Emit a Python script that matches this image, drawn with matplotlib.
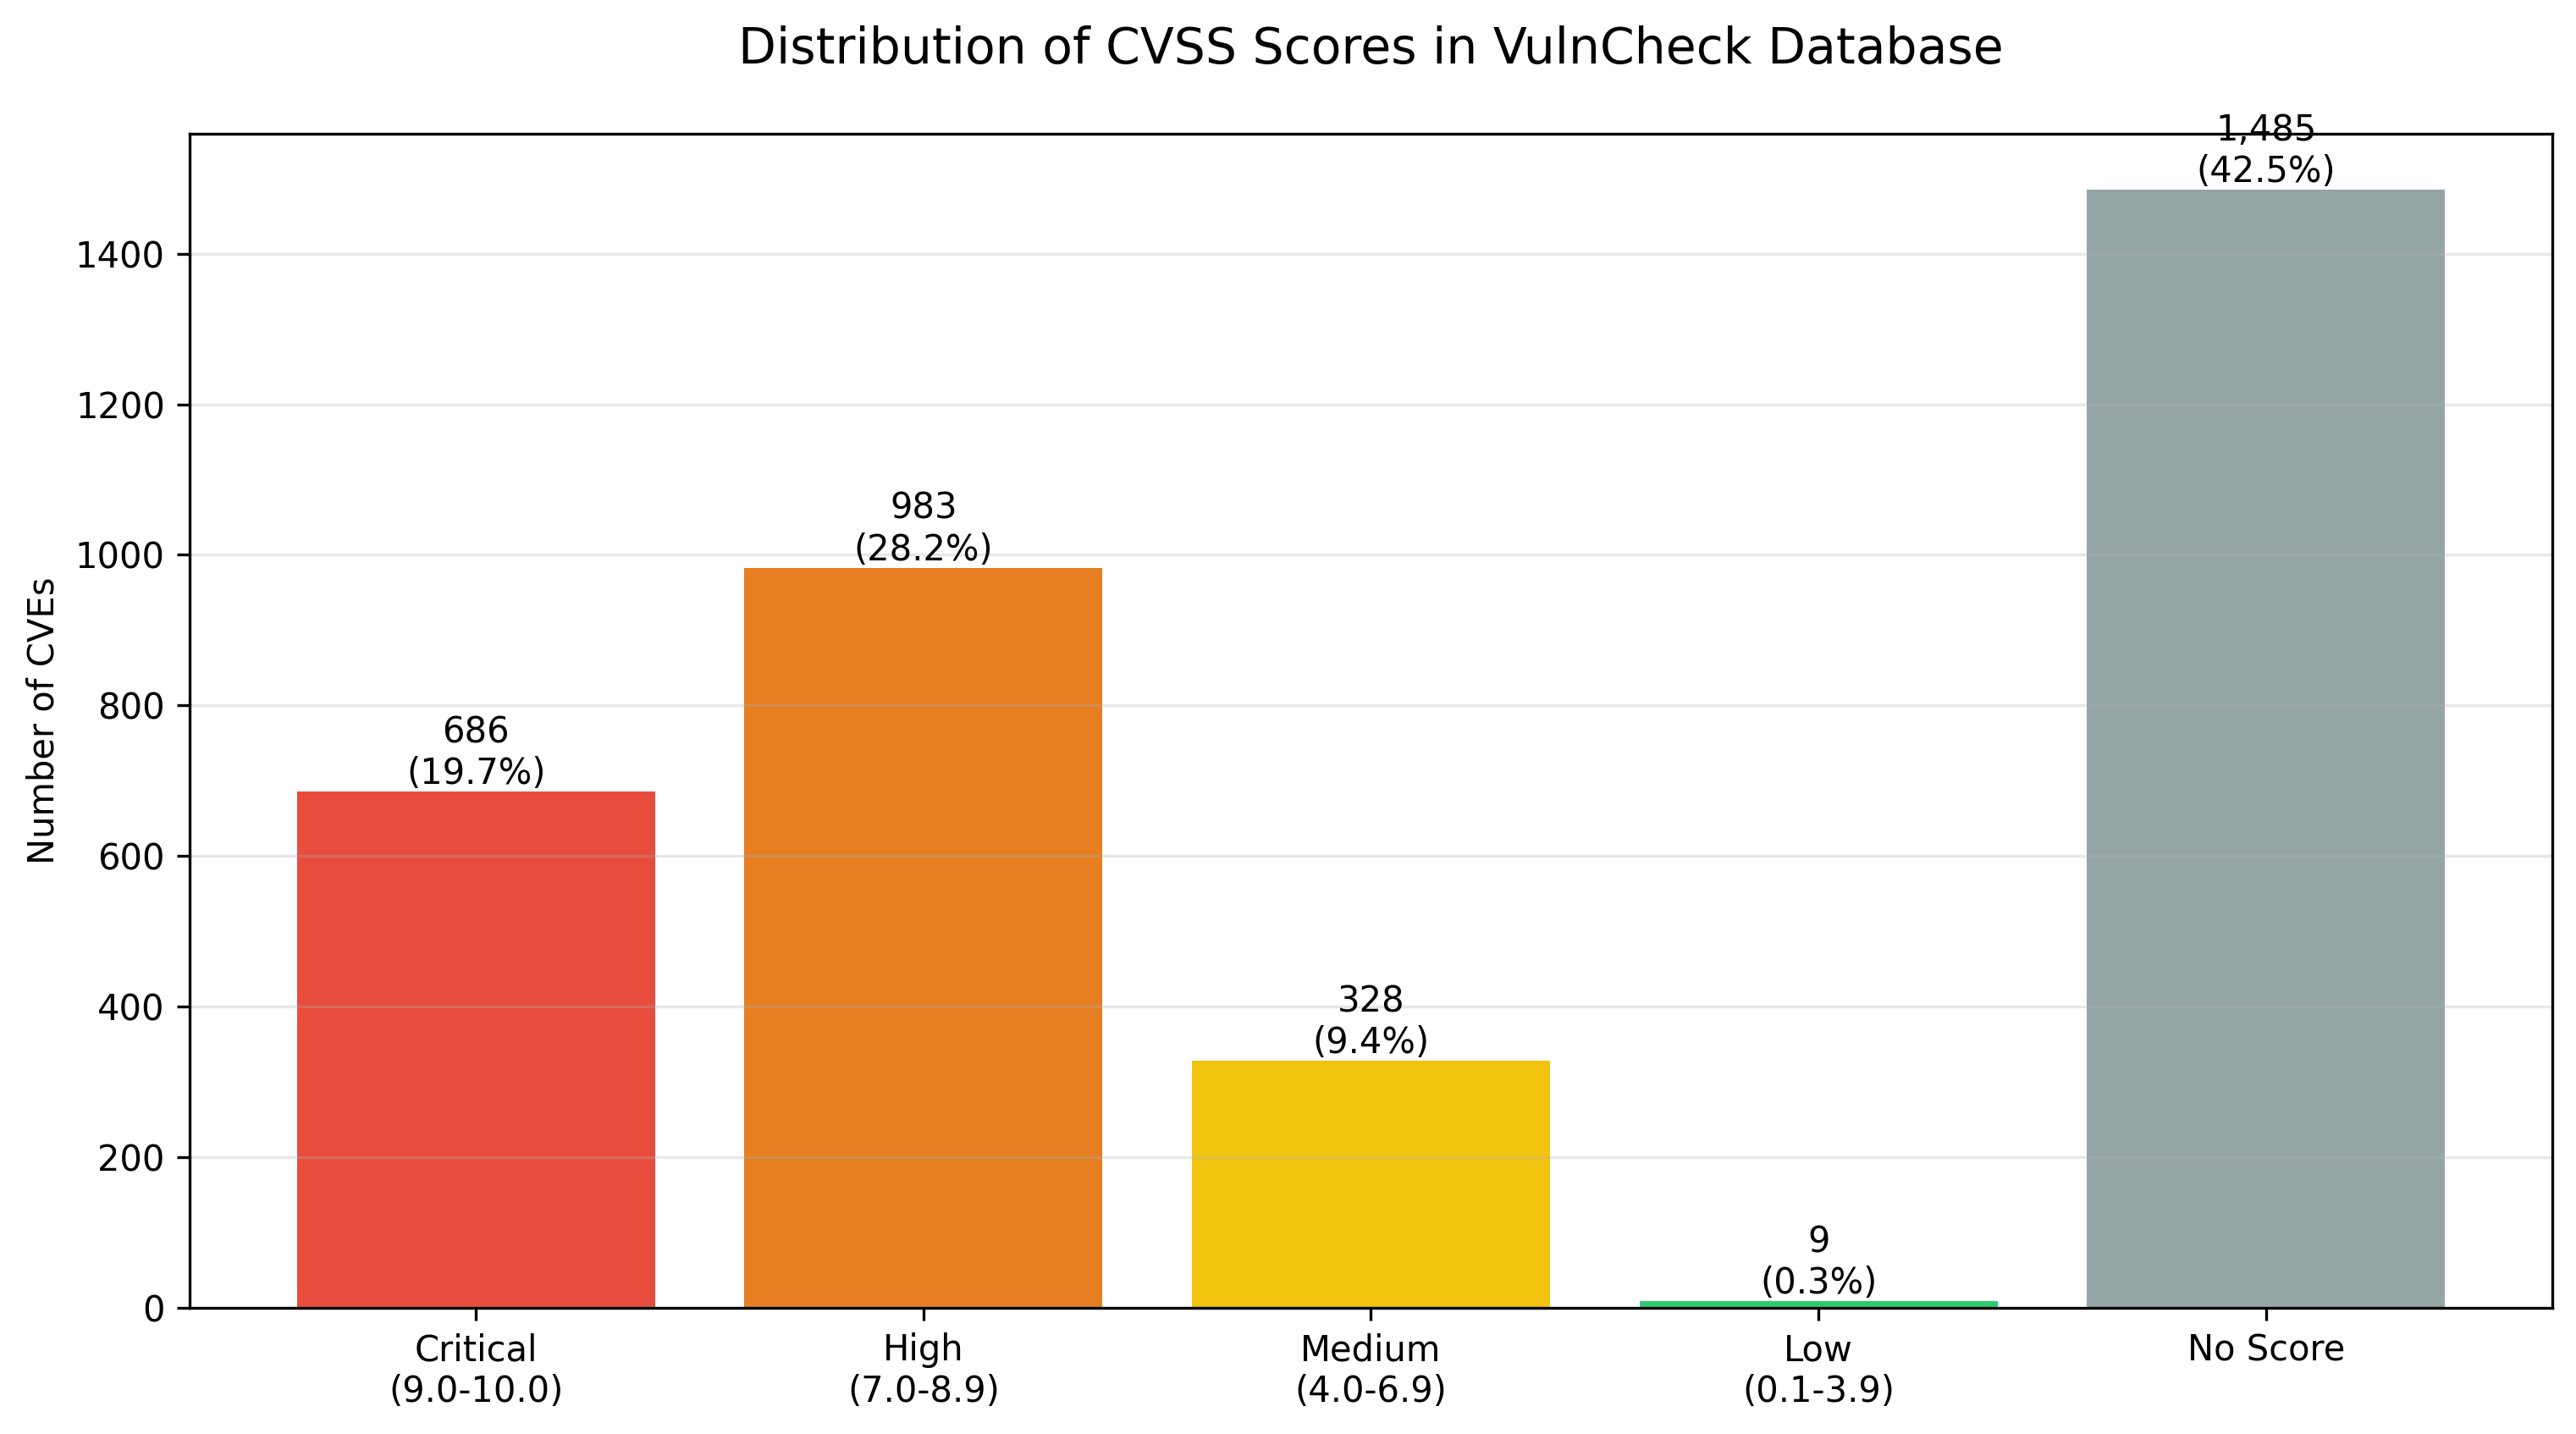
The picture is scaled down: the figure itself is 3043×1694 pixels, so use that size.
import matplotlib
matplotlib.use("Agg")
import matplotlib.pyplot as plt

categories = ["Critical\n(9.0-10.0)", "High\n(7.0-8.9)", "Medium\n(4.0-6.9)", "Low\n(0.1-3.9)", "No Score"]
counts = [686, 983, 328, 9, 1485]
colors = ["#e74c3c", "#e67e22", "#f1c40f", "#2ecc71", "#95a5a6"]

total = sum(counts)

W, H = 3043, 1694
fig = plt.figure(figsize=(W / 300, H / 300), dpi=300)
ax = fig.add_axes([224 / W, 1 - 1545 / H, (3015 - 224) / W, (1545 - 158) / H])

x = list(range(len(categories)))
bars = ax.bar(x, counts, color=colors)
for xi, c in zip(x, counts):
    ax.text(xi, c, f"{c:,}\n({c / total * 100:.1f}%)", ha="center", va="bottom", fontsize=10)

ax.set_xticks(x)
ax.set_xticklabels(categories)
ax.set_ylabel("Number of CVEs")
ax.set_title("Distribution of CVSS Scores in VulnCheck Database", fontsize=14, pad=20)
ax.set_ylim(0, max(counts) * 1.05)
ax.grid(axis="y", alpha=0.3)

fig.savefig("out.png", dpi=300)
